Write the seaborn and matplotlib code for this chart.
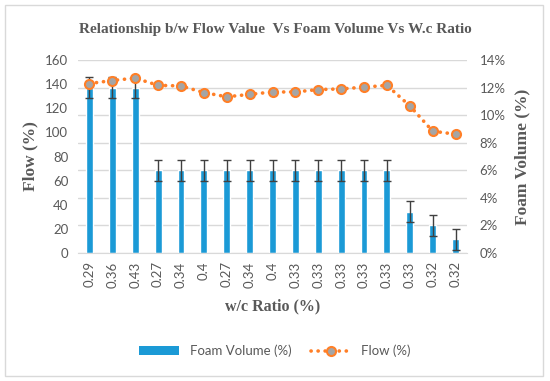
import matplotlib
matplotlib.use("Agg")
import matplotlib.pyplot as plt
from matplotlib.patches import Rectangle, Patch
from matplotlib.lines import Line2D
from matplotlib.ticker import FuncFormatter
import seaborn as sns
import pandas as pd

# values
wc_ratio = ['0.29', '0.36', '0.43', '0.27', '0.34', '0.4', '0.27', '0.34', '0.4',
            '0.33', '0.33', '0.33', '0.33', '0.33', '0.33', '0.32', '0.32']
foam_volume = [12, 12, 12, 6, 6, 6, 6, 6, 6, 6, 6, 6, 6, 6, 3, 2, 1]
flow = [140.5, 143, 145, 139, 138.5, 133, 129.5, 131.5, 133.5,
        133.5, 135.5, 136, 137.5, 139, 122, 101, 98.5]
foam_err = 0.76

df = pd.DataFrame({'pos': range(len(wc_ratio)), 'foam': foam_volume, 'flow': flow})

sns.set_style("white")
plt.rcParams['font.family'] = ['Lato', 'DejaVu Sans']

grey = '#595959'
blue = '#1b9ad6'
orange = '#ff7f27'
dots = (0, (0.05, 1.9))

fig = plt.figure(figsize=(5.5, 3.81), dpi=100)
fig.patches.append(Rectangle((5 / 550, 5 / 381), 538 / 550, 371 / 381, transform=fig.transFigure,
                             fill=False, edgecolor='#d9d9d9', linewidth=1))

ax_r = fig.add_axes([78 / 550, 1 - 253 / 381, 389 / 550, 193 / 381])
ax_l = ax_r.twinx()
# flow axis is on the left, foam axis on the right
ax_l.yaxis.tick_left()
ax_l.yaxis.set_label_position('left')
ax_r.yaxis.tick_right()
ax_r.yaxis.set_label_position('right')
ax_l.set_zorder(ax_r.get_zorder() + 1)
ax_l.patch.set_visible(False)

sns.barplot(data=df, x='pos', y='foam', ax=ax_r, color=blue, width=0.3, saturation=1, zorder=2)
ax_r.errorbar(df['pos'], df['foam'], yerr=foam_err, fmt='none', ecolor='#404040',
              elinewidth=1, capsize=3, capthick=1, zorder=3)

sns.lineplot(data=df, x='pos', y='flow', ax=ax_l, color=orange, linewidth=2.6,
             linestyle=dots, dash_capstyle='round', marker='o', markersize=6.5,
             markerfacecolor='#a5a5a5', markeredgecolor=orange, markeredgewidth=1.5)

ax_r.set_ylim(0, 14)
ax_r.set_yticks(range(0, 15, 2))
ax_r.yaxis.set_major_formatter(FuncFormatter(lambda v, p: f"{int(v)}%"))
ax_l.set_ylim(0, 160)
ax_l.set_yticks(range(0, 161, 20))
ax_r.set_xlim(-0.5, len(wc_ratio) - 0.5)
ax_r.set_xticks(range(len(wc_ratio)))
ax_r.set_xticklabels(wc_ratio, rotation=90)

ax_r.grid(axis='y', color='#d9d9d9', linewidth=1)
ax_r.set_axisbelow(True)
for a in (ax_l, ax_r):
    for s in a.spines.values():
        s.set_visible(False)
ax_r.spines['bottom'].set_visible(True)
ax_r.spines['bottom'].set_color('#d9d9d9')

ax_l.tick_params(axis='y', colors=grey, labelsize=9.5, length=0, pad=7)
ax_r.tick_params(axis='y', colors=grey, labelsize=9.5, length=0, pad=9)
ax_r.tick_params(axis='x', colors=grey, labelsize=9.5, length=0, pad=6)

serif = dict(family='Liberation Serif', weight='bold', color=grey)
ax_l.set_ylabel('Flow (%)', fontsize=12.5, labelpad=5, **serif)
ax_r.set_ylabel('Foam Volume (%)', fontsize=12.5, labelpad=6, **serif)
ax_r.set_xlabel('w/c Ratio (%)', fontsize=11.5, labelpad=8, **serif)
ax_l.set_xlabel('')
fig.text(0.5, 1 - 30 / 381, 'Relationship b/w Flow Value  Vs Foam Volume Vs W.c Ratio',
         ha='center', va='center', fontsize=11, **serif)

handles = [Patch(facecolor=blue, edgecolor='none'),
           Line2D([], [], color=orange, linewidth=2.6, linestyle=dots,
                  dash_capstyle='round', marker='o', markersize=6.5,
                  markerfacecolor='#a5a5a5', markeredgecolor=orange, markeredgewidth=1.5)]
fig.legend(handles, ['Foam Volume (%)', 'Flow (%)'], loc='center', ncol=2,
           bbox_to_anchor=(0.5, 1 - 351 / 381), frameon=False, fontsize=9.5,
           labelcolor=grey, handlelength=3, handleheight=0.6, columnspacing=1.5)

fig.savefig('out.png', dpi=100)
